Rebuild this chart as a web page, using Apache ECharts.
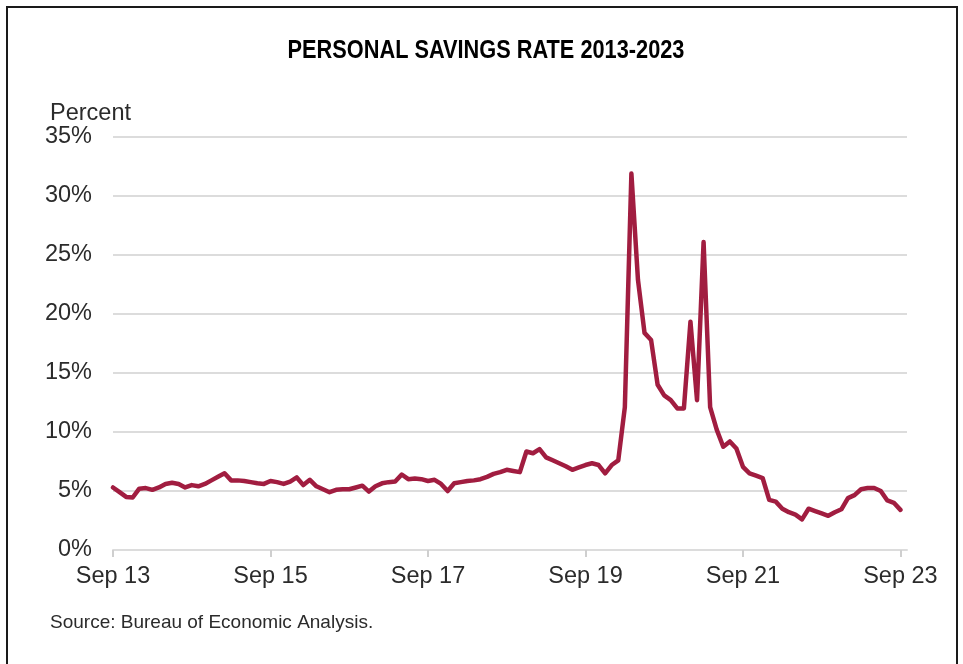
<!DOCTYPE html>
<html>
<head>
<meta charset="utf-8">
<script src="https://cdn.jsdelivr.net/npm/echarts@6/dist/echarts.min.js"></script>
<style>
html,body{margin:0;padding:0;background:#fff;}
#c{width:963px;height:664px;}
</style>
</head>
<body>
<div id="c"></div>
<script>
// Monthly categories Sep 2013 .. Oct 2023
var monthNames = ['Jan','Feb','Mar','Apr','May','Jun','Jul','Aug','Sep','Oct','Nov','Dec'];
var startYear = 2013, startMonth = 8, monthCount = 122;
var categories = [];
for (var i = 0; i < monthCount; i++) {
  var m = (startMonth + i) % 12;
  var y = startYear + Math.floor((startMonth + i) / 12);
  categories.push(monthNames[m] + ' ' + String(y).slice(2));
}
var tickLabels = ['Sep 13','Sep 15','Sep 17','Sep 19','Sep 21','Sep 23'];

// Personal savings rate, percent (Sep 2013 .. Sep 2023)
var savingsRate = [
  5.3, 4.9, 4.5, 4.45, 5.2, 5.25, 5.1, 5.3, 5.6, 5.7,
  5.6, 5.3, 5.5, 5.4, 5.6, 5.9, 6.2, 6.5, 5.9, 5.9,
  5.85, 5.75, 5.65, 5.6, 5.85, 5.75, 5.6, 5.8, 6.15, 5.5,
  5.95, 5.4, 5.15, 4.9, 5.1, 5.15, 5.15, 5.3, 5.45, 4.95,
  5.4, 5.65, 5.75, 5.8, 6.4, 6.0, 6.05, 6.0, 5.85, 5.95,
  5.6, 5.0, 5.65, 5.75, 5.85, 5.9, 6.0, 6.2, 6.45, 6.6,
  6.8, 6.7, 6.6, 8.35, 8.2, 8.55, 7.85, 7.6, 7.35, 7.1,
  6.8, 7.0, 7.2, 7.35, 7.2, 6.5, 7.2, 7.6, 12.1, 31.9,
  22.9, 18.4, 17.8, 14.0, 13.1, 12.7, 12.0, 12.0, 19.35, 12.7,
  26.1, 12.1, 10.2, 8.75, 9.2, 8.6, 7.05, 6.5, 6.3, 6.1,
  4.25, 4.1, 3.5, 3.2, 3.0, 2.6, 3.5, 3.3, 3.1, 2.9,
  3.2, 3.45, 4.4, 4.65, 5.15, 5.25, 5.25, 5.0, 4.2, 4.0,
  3.4
];
var yTicks = [0, 5, 10, 15, 20, 25, 30, 35];

var chart = echarts.init(document.getElementById('c'), null, {renderer: 'canvas'});
var labelFont = '"Liberation Sans", Arial, Helvetica, sans-serif';
chart.setOption({
  animation: false,
  backgroundColor: '#ffffff',
  grid: {left: 113, right: 56, top: 137, bottom: 114, containLabel: false},
  xAxis: {
    type: 'category',
    data: categories,
    boundaryGap: false,
    axisLine: {show: true, lineStyle: {color: '#dcdcdc', width: 2}},
    axisTick: {
      show: true, length: 7,
      interval: function (idx, val) { return tickLabels.indexOf(val) >= 0; },
      lineStyle: {color: '#cfcfcf', width: 2}
    },
    axisLabel: {
      interval: function (idx, val) { return tickLabels.indexOf(val) >= 0; },
      margin: 15,
      fontFamily: labelFont,
      fontSize: 23.5,
      color: '#2b2b2b'
    },
    splitLine: {show: false}
  },
  yAxis: {
    type: 'value',
    min: yTicks[0],
    max: yTicks[yTicks.length - 1],
    interval: 5,
    axisLine: {show: false},
    axisTick: {show: false},
    axisLabel: {
      formatter: '{value}%',
      margin: 21,
      fontFamily: labelFont,
      fontSize: 23.5,
      color: '#2b2b2b'
    },
    splitLine: {lineStyle: {color: '#dcdcdc', width: 2}}
  },
  series: [{
    type: 'line',
    data: savingsRate,
    showSymbol: false,
    symbol: 'none',
    lineStyle: {color: '#A11D40', width: 4.5, join: 'round', cap: 'round'},
    itemStyle: {color: '#A11D40'}
  }],
  graphic: [
    {
      type: 'rect', silent: true, z: 100,
      shape: {x: 7, y: 7, width: 950, height: 670},
      style: {fill: 'none', stroke: '#1a1a1a', lineWidth: 2}
    },
    {
      type: 'text', z: 100,
      x: 486, y: 51, scaleX: 0.87, scaleY: 1,
      style: {
        text: 'PERSONAL SAVINGS RATE 2013-2023',
        font: 'bold 25px "Liberation Sans", Arial, sans-serif',
        fill: '#000', align: 'center', verticalAlign: 'middle'
      }
    },
    {
      type: 'text', left: 50, top: 102, z: 100,
      style: {text: 'Percent', font: '23.5px "Liberation Sans", Arial, sans-serif', fill: '#2b2b2b'}
    },
    {
      type: 'text', left: 50, top: 613, z: 100,
      style: {text: 'Source: Bureau of Economic Analysis.', font: '19px "Liberation Sans", Arial, sans-serif', fill: '#2b2b2b'}
    }
  ]
});
</script>
</body>
</html>
